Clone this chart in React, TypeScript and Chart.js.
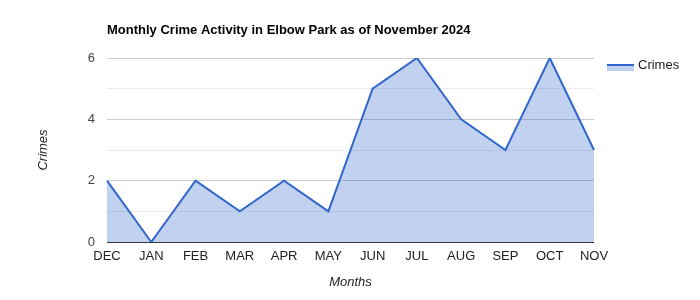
import React, { useEffect, useRef } from "react";
import { Chart, registerables } from "chart.js";

Chart.register(...registerables);

const months = ["DEC", "JAN", "FEB", "MAR", "APR", "MAY", "JUN", "JUL", "AUG", "SEP", "OCT", "NOV"];
const crimes = [2, 0, 2, 1, 2, 1, 5, 6, 4, 3, 6, 3];
const chartTitle = "Monthly Crime Activity in Elbow Park as of November 2024";
const seriesName = "Crimes";
const xTitle = "Months";
const yTitle = "Crimes";

const FONT = "Arial, 'Liberation Sans', sans-serif";
const LINE = "#3366cc";
const FILL = "rgba(51,102,204,0.3)";

const decor = {
  id: "decor",
  afterDraw(chart: any) {
    const { ctx, chartArea } = chart;
    ctx.save();
    // title
    ctx.fillStyle = "#000";
    ctx.font = `bold 13px ${FONT}`;
    ctx.textAlign = "left";
    ctx.textBaseline = "alphabetic";
    ctx.fillText(chartTitle, chartArea.left, 34);
    // legend
    const lx = 607, ly = 65;
    ctx.fillStyle = FILL;
    ctx.fillRect(lx, ly, 27, 6);
    ctx.strokeStyle = LINE;
    ctx.lineWidth = 2;
    ctx.beginPath();
    ctx.moveTo(lx, ly);
    ctx.lineTo(lx + 27, ly);
    ctx.stroke();
    ctx.fillStyle = "#222";
    ctx.font = `13px ${FONT}`;
    ctx.textBaseline = "middle";
    ctx.fillText(seriesName, lx + 31, ly);
    // axis titles
    ctx.font = `italic 13px ${FONT}`;
    ctx.textAlign = "center";
    ctx.fillText(xTitle, (chartArea.left + chartArea.right) / 2, 282);
    ctx.translate(43, (chartArea.top + chartArea.bottom) / 2);
    ctx.rotate(-Math.PI / 2);
    ctx.fillText(yTitle, 0, 0);
    ctx.restore();
  },
};

export default function App() {
  const ref = useRef<HTMLCanvasElement | null>(null);
  useEffect(() => {
    if (!ref.current) return;
    const chart = new Chart(ref.current, {
      type: "line",
      data: {
        labels: months,
        datasets: [
          {
            label: seriesName,
            data: crimes,
            borderColor: LINE,
            backgroundColor: FILL,
            borderWidth: 2,
            fill: "origin",
            pointRadius: 0,
            tension: 0,
          },
        ],
      },
      options: {
        responsive: false,
        animation: false,
        layout: { padding: { left: 67, right: 106, top: 58, bottom: 28 } },
        plugins: { legend: { display: false }, title: { display: false }, tooltip: { enabled: false } },
        scales: {
          x: {
            offset: false,
            grid: { display: false, drawTicks: false },
            border: { display: false },
            ticks: { color: "#222", font: { family: FONT, size: 13 }, padding: 7, maxRotation: 0, autoSkip: false },
            afterFit: (s: any) => { s.height = 30; },
          },
          y: {
            min: 0,
            max: 6,
            border: { display: false },
            grid: {
              drawTicks: false,
              color: (c: any) => {
                const v = c.tick?.value;
                if (v === 0) return "#333";
                return v % 2 === 0 ? "#cccccc" : "#ebebeb";
              },
              lineWidth: 1,
            },
            ticks: {
              stepSize: 1,
              color: "#444",
              padding: 12,
              font: { family: FONT, size: 13 },
              callback: (v: any) => (Number(v) % 2 === 0 ? String(v) : ""),
            },
            afterFit: (s: any) => { s.width = 40; },
          },
        },
      },
      plugins: [decor],
    });
    return () => chart.destroy();
  }, []);
  return (
    <canvas
      ref={ref}
      width={700}
      height={300}
      style={{ position: "absolute", left: 0, top: 0, width: 700, height: 300 }}
    />
  );
}
